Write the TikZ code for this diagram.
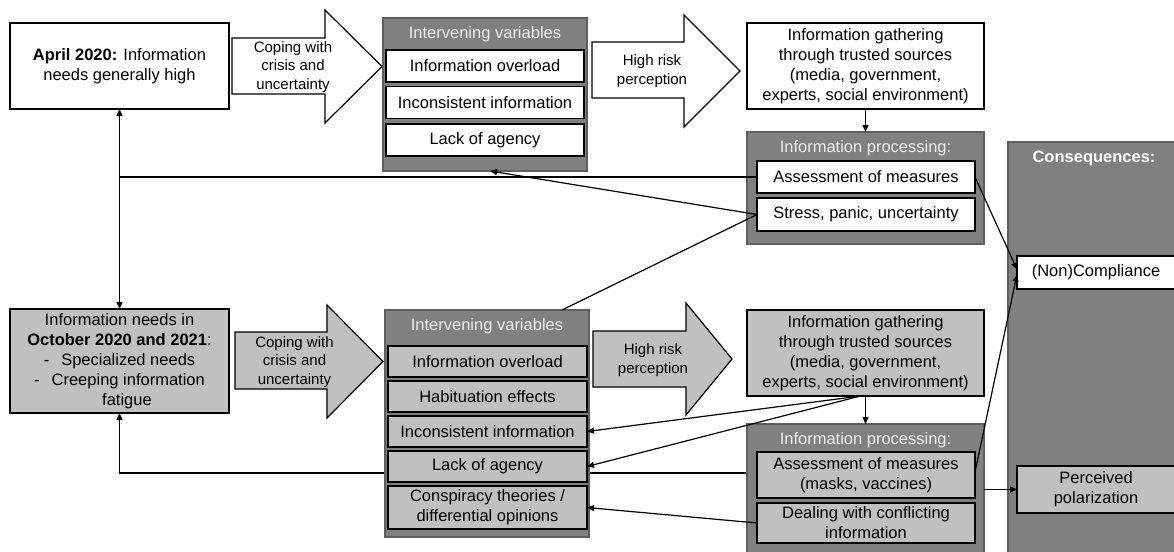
\documentclass[tikz,border=0pt]{standalone}
\usepackage{fontspec}
\setmainfont{Liberation Sans}
\usetikzlibrary{arrows.meta,backgrounds,calc}
\definecolor{dk}{RGB}{128,128,128}
\definecolor{lt}{RGB}{192,192,192}
\definecolor{dkb}{RGB}{95,95,95}
\definecolor{ttlc}{RGB}{238,238,238}
\begin{document}
\begin{tikzpicture}[x=1pt,y=-1pt,
  box/.style={draw=black, line width=1.3pt, inner sep=0pt, outer sep=0pt, align=center, font=\fontsize{16.5}{20}\selectfont, text=black},
  wbox/.style={box, fill=white},
  gbox/.style={box, fill=lt},
  dbox/.style={draw=dkb, fill=dk, line width=1.3pt, inner sep=0pt, outer sep=0pt},
  ttl/.style={text=ttlc, font=\fontsize{16.5}{20}\selectfont, inner sep=0pt},
  atext/.style={align=center, font=\fontsize{15}{18.5}\selectfont, inner sep=0pt},
  barrow/.style={draw=black, line width=1.2pt, line join=miter},
  arr/.style={-{Triangle[length=7pt,width=6pt]}, line width=1.2pt},
  ln/.style={line width=1.2pt},
]
\useasboundingbox (0,0) rectangle (1174,551);

% ---------- top row ----------
\node[wbox, minimum width=219pt, minimum height=86pt] (april) at (119.5,66)
  {\textbf{April 2020:} Information\\needs generally high};

\draw[barrow, fill=white] (232,38) -- (325,38) -- (325,10) -- (382,66.5) -- (325,123) -- (325,94) -- (232,94) -- cycle;
\node[atext] (copeT) at (293,67) {Coping with\\crisis and\\uncertainty};

\node[dbox, minimum width=204pt, minimum height=153pt] (ivT) at (485,94.5) {};
\node[ttl] (ivTt) at (485,34) {Intervening variables};
\node[wbox, minimum width=198pt, minimum height=32pt] (ioT) at (485,66) {Information overload};
\node[wbox, minimum width=198pt, minimum height=32pt] (iiT) at (485,102.5) {Inconsistent information};
\node[wbox, minimum width=198pt, minimum height=32pt] (laT) at (485,140) {Lack of agency};

\draw[barrow, fill=white] (592,42) -- (684,42) -- (684,15) -- (740,71) -- (684,127) -- (684,98) -- (592,98) -- cycle;
\node[atext] (hrT) at (652,71) {High risk\\perception};

\node[wbox, minimum width=237pt, minimum height=86pt] (gathT) at (865.5,66)
  {Information gathering\\through trusted sources\\(media, government,\\experts, social environment)};

\node[dbox, minimum width=237pt, minimum height=112pt] (procT) at (865.5,188) {};
\node[ttl] (procTt) at (865.5,148) {Information processing:};
\node[wbox, minimum width=218pt, minimum height=32pt] (assessT) at (866,177) {Assessment of measures};
\node[wbox, minimum width=218pt, minimum height=33pt] (stress) at (866,214.5) {Stress, panic, uncertainty};

% ---------- consequences ----------
\node[dbox, minimum width=172pt, minimum height=418pt] (cons) at (1094,351) {};
\node[ttl, text=white, font=\fontsize{16.5}{20}\selectfont\bfseries] (consT) at (1094,158) {Consequences:};
\node[wbox, minimum width=158pt, minimum height=33pt] (compl) at (1096,272.5) {(Non)Compliance};
\node[gbox, minimum width=158pt, minimum height=47pt] (pp) at (1096,489.5) {Perceived\\polarization};

% ---------- bottom row ----------
\node[gbox, minimum width=219pt, minimum height=104pt] (octB) at (119.5,361)
  {Information needs in\\\textbf{October 2020 and 2021}:\\-\hspace{12pt}Specialized needs\\-\hspace{12pt}Creeping information\\\hspace*{15pt}fatigue};

\draw[barrow, fill=lt] (235,332) -- (327,332) -- (327,305) -- (383,361.5) -- (327,418) -- (327,389) -- (235,389) -- cycle;
\node[atext] (copeB) at (294.5,362) {Coping with\\crisis and\\uncertainty};

\node[dbox, minimum width=204pt, minimum height=227pt] (ivB) at (487,423.5) {};
\node[ttl] (ivBt) at (487,326) {Intervening variables};
\node[gbox, minimum width=199pt, minimum height=31pt] (ioB) at (487.5,361.5) {Information overload};
\node[gbox, minimum width=199pt, minimum height=31pt] (hab) at (487.5,396.5) {Habituation effects};
\node[gbox, minimum width=199pt, minimum height=31pt] (iiB) at (487.5,431.5) {Inconsistent information};
\node[gbox, minimum width=199pt, minimum height=31pt] (laB) at (487.5,466.5) {Lack of agency};
\node[gbox, minimum width=199pt, minimum height=43pt] (consp) at (487.5,507.5) {Conspiracy theories /\\differential opinions};

\draw[barrow, fill=lt] (593,331) -- (686,331) -- (686,303) -- (732,359) -- (686,415) -- (686,387) -- (593,387) -- cycle;
\node[atext] (hrB) at (653,360) {High risk\\perception};

\node[gbox, minimum width=237pt, minimum height=86pt] (gathB) at (865.5,353)
  {Information gathering\\through trusted sources\\(media, government,\\experts, social environment)};

\node[dbox, minimum width=237pt, minimum height=134pt] (procB) at (865.5,491) {};
\node[ttl] (procBt) at (865.5,440) {Information processing:};
\node[gbox, minimum width=218pt, minimum height=46pt] (assessB) at (866,475) {Assessment of measures\\(masks, vaccines)};
\node[gbox, minimum width=218pt, minimum height=40pt] (deal) at (866,523) {Dealing with conflicting\\information};

% ---------- connectors ----------
\begin{scope}[on background layer]
\draw[arr] ([yshift=2pt]assessB.west) -- ([yshift=2pt]assessB.west -| octB.south) -- (octB.south);
\end{scope}

\draw[{Triangle[length=7pt,width=6pt]}-{Triangle[length=7pt,width=6pt]}, line width=1.2pt] (april.south) -- (octB.north);
\draw[ln] (assessT.west) -- (assessT.west -| april.south);
\draw[arr] (gathT.south) -- (procT.north);
\draw[arr] (stress.west) -- ([xshift=5pt]ivT.south);
\draw[ln] (stress.west) -- ([xshift=75pt]ivB.north);
\draw[arr] (assessT.east) -- ([yshift=3pt]compl.west);
\draw[arr] ([yshift=3pt]assessB.east) -- ([yshift=-2pt]compl.west);

\draw[arr] (gathB.south) -- (procB.north);
\draw[arr] ([xshift=-5pt]gathB.south) -- (iiB.east);
\draw[arr] ([xshift=-5pt]gathB.south) -- (laB.east);
\draw[arr] (deal.west) -- (consp.east);
\draw[arr] (pp.west -| procB.east) -- (pp.west);
\end{tikzpicture}
\end{document}
